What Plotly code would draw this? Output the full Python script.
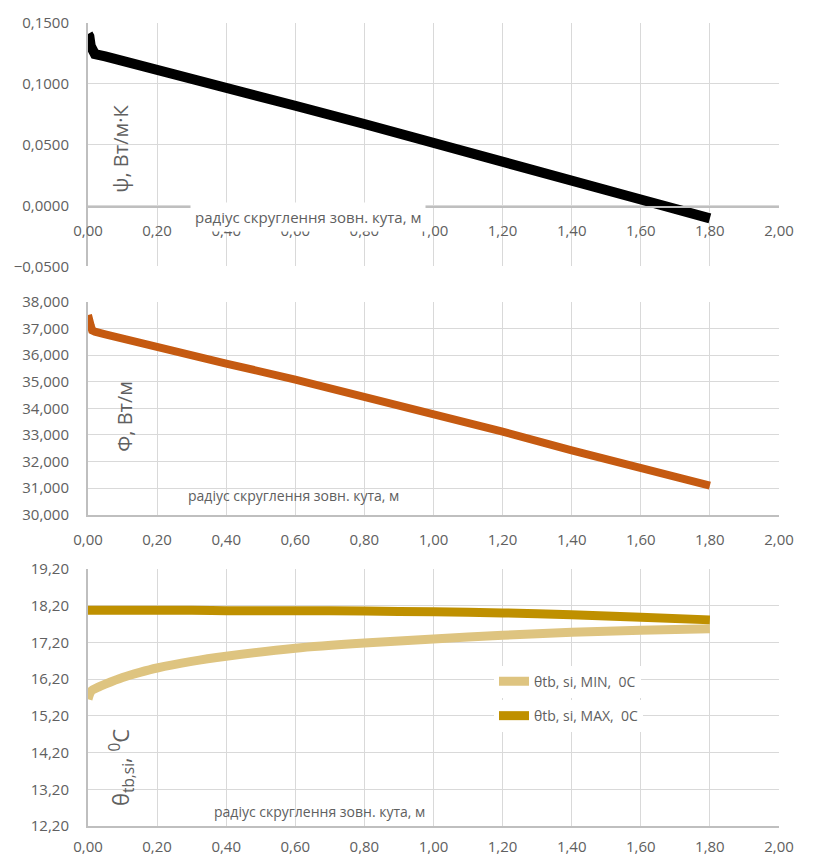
import plotly.graph_objects as go

# ---------------- data ----------------
x_psi = [0.0, 0.004, 0.008, 0.012, 0.02, 0.05, 0.10, 0.20, 0.40, 0.60, 0.80, 1.00, 1.20, 1.40, 1.60, 1.80]
psi = [0.141, 0.139, 0.131, 0.1255, 0.1245, 0.1225, 0.119, 0.112, 0.097, 0.082, 0.067, 0.052, 0.037, 0.021, 0.005, -0.0105]

x_phi = [0.0, 0.004, 0.008, 0.012, 0.02, 0.05, 0.10, 0.20, 0.40, 0.60, 0.80, 1.00, 1.20, 1.40, 1.60, 1.80]
phi = [37.50, 37.38, 37.10, 36.93, 36.88, 36.78, 36.62, 36.25, 35.68, 35.08, 34.45, 33.78, 33.12, 32.42, 31.78, 31.10]

x_theta = [0.0, 0.01, 0.03, 0.05, 0.10, 0.15, 0.20, 0.30, 0.40, 0.60, 0.80, 1.00, 1.20, 1.40, 1.60, 1.80]
theta_min = [15.65, 15.88, 15.98, 16.06, 16.24, 16.38, 16.50, 16.68, 16.82, 17.04, 17.18, 17.29, 17.39, 17.47, 17.53, 17.57]
theta_max = [18.07, 18.07, 18.07, 18.07, 18.07, 18.07, 18.07, 18.07, 18.06, 18.06, 18.05, 18.03, 18.00, 17.95, 17.88, 17.81]

name_min = "θtb, si, MIN,\u00a0\u00a00C"
name_max = "θtb, si, MAX,\u00a0\u00a00C"
x_title = "радіус скруглення зовн. кута, м"

# ---------------- geometry helpers ----------------
W, H = 814, 868
L, R, T, B = 88, 779, 19, 837


def fx(p):
    return (p - L) / (R - L)


def fy(p):
    return (B - p) / (B - T)


FONT = "Open Sans"
GRAY = "#606060"
GRID = "#d9d9d9"
AXL = "#bfbfbf"

fig = go.Figure()
fig.add_trace(go.Scatter(x=x_psi, y=psi, mode="lines", xaxis="x", yaxis="y",
                         line=dict(color="#000000", width=10), showlegend=False))
fig.add_trace(go.Scatter(x=x_phi, y=phi, mode="lines", xaxis="x2", yaxis="y2",
                         line=dict(color="#c55a11", width=8), showlegend=False))
fig.add_trace(go.Scatter(x=x_theta, y=theta_min, mode="lines", xaxis="x3", yaxis="y3",
                         line=dict(color="#dec480", width=9, shape="spline", smoothing=0.8),
                         name=name_min, legend="legend"))
fig.add_trace(go.Scatter(x=x_theta, y=theta_max, mode="lines", xaxis="x3", yaxis="y3",
                         line=dict(color="#bf9000", width=9, shape="spline", smoothing=0.8),
                         name=name_max, legend="legend2"))

tickfont = dict(family=FONT, size=15, color=GRAY)


def xaxis(**kw):
    d = dict(range=[0, 2], dtick=0.2, tick0=0, tickformat=".2f", showgrid=True, gridcolor=GRID,
             gridwidth=1, zeroline=False, showline=True, linecolor=AXL, linewidth=2,
             ticks="", tickfont=tickfont, ticklabelstandoff=6, fixedrange=True)
    d.update(kw)
    return d


def yaxis(**kw):
    d = dict(showgrid=True, gridcolor=GRID, gridwidth=1, zeroline=False, showline=True,
             linecolor=AXL, linewidth=2, ticks="", tickfont=tickfont, ticklabelstandoff=14,
             fixedrange=True)
    d.update(kw)
    return d


dom_top = [fy(267), fy(19)]
dom_mid = [fy(520), fy(303)]
dom_bot = [fy(837), fy(575)]

fig.update_layout(
    width=W, height=H,
    margin=dict(l=L, r=W - R, t=T, b=H - B),
    paper_bgcolor="white", plot_bgcolor="white",
    separators=",.",
    font=dict(family=FONT, color=GRAY),
    xaxis=xaxis(anchor="free", position=fy(206), domain=[0, 1], ticklabelstandoff=10),
    yaxis=yaxis(domain=dom_top, range=[-0.05, 0.15], dtick=0.05, tick0=0, tickformat=".4f"),
    xaxis2=xaxis(anchor="y2", domain=[0, 1], ticklabelstandoff=10),
    yaxis2=yaxis(domain=dom_mid, range=[30, 38], dtick=1, tick0=30, tickformat=".3f", anchor="x2"),
    xaxis3=xaxis(anchor="y3", domain=[0, 1], ticklabelstandoff=6),
    yaxis3=yaxis(domain=dom_bot, range=[12.2, 19.2], dtick=1, tick0=12.2, tickformat=".2f", anchor="x3"),
    legend=dict(x=fx(494), y=fy(690), xanchor="left", yanchor="middle", bgcolor="white",
                font=dict(family=FONT, size=14, color=GRAY), itemwidth=30),
    legend2=dict(x=fx(494), y=fy(725), xanchor="left", yanchor="middle", bgcolor="white",
                 font=dict(family=FONT, size=14, color=GRAY), itemwidth=30),
)

annotations = [
    # x-axis titles
    dict(text=x_title, x=fx(308), y=fy(217), xref="paper", yref="paper", showarrow=False,
         xanchor="center", yanchor="middle", bgcolor="white", borderpad=4,
         font=dict(family=FONT, size=15, color=GRAY)),
    dict(text=x_title, x=fx(186), y=fy(500), xref="paper", yref="paper", showarrow=False,
         xanchor="left", yanchor="middle",
         font=dict(family=FONT, size=14, color=GRAY)),
    dict(text=x_title, x=fx(212), y=fy(822), xref="paper", yref="paper", showarrow=False,
         xanchor="left", yanchor="middle",
         font=dict(family=FONT, size=14, color=GRAY)),
    # y-axis titles
    dict(text="ψ, Вт/м·К", x=fx(121), y=fy(147), xref="paper", yref="paper", showarrow=False,
         textangle=-90, xanchor="center", yanchor="middle",
         font=dict(family=FONT, size=20, color=GRAY)),
    dict(text="Φ, Вт/м", x=fx(125), y=fy(420), xref="paper", yref="paper", showarrow=False,
         textangle=-90, xanchor="center", yanchor="middle",
         font=dict(family=FONT, size=20, color=GRAY)),
    dict(text="θ<sub>tb,si</sub>, <sup>0</sup>C", x=fx(121), y=fy(778), xref="paper", yref="paper",
         showarrow=False, textangle=-90, xanchor="center", yanchor="middle",
         font=dict(family=FONT, size=22, color=GRAY)),
]
fig.update_layout(annotations=annotations)

fig.write_html("out.html")
